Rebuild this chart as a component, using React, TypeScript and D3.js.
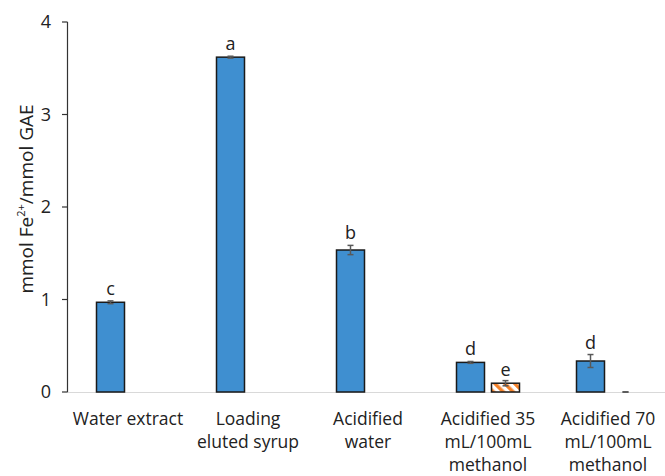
import React from "react";
import * as d3 from "d3";

const categories = [
  ["Water extract"],
  ["Loading", "eluted syrup"],
  ["Acidified", "water"],
  ["Acidified 35", "mL/100mL", "methanol"],
  ["Acidified 70", "mL/100mL", "methanol"],
];
const series1 = [0.97, 3.62, 1.535, 0.32, 0.335];
const err1 = [0.015, 0.01, 0.05, 0.01, 0.07];
const letters1 = ["c", "a", "b", "d", "d"];
const series2: (number | null)[] = [null, null, null, 0.095, 0.0];
const err2: (number | null)[] = [null, null, null, 0.028, 0.002];
const letters2 = ["", "", "", "e", ""];
const yTicks = [0, 1, 2, 3, 4];

const W = 665;
const H = 476;
const FONT = "'Open Sans', 'Noto Sans', sans-serif";
const BLUE = "#3F8FD0";
const ORANGE = "#F4822A";

export default function App() {
  const x = d3
    .scaleBand<number>()
    .domain(categories.map((_, i) => i))
    .range([68, 668])
    .paddingInner(0)
    .paddingOuter(0);
  const y = d3.scaleLinear().domain([0, 4]).range([392, 22]);
  const inner = d3
    .scaleBand<string>()
    .domain(["s1", "s2"])
    .range([0, 63])
    .paddingInner(0.2)
    .paddingOuter(0);

  const groupLeft = (i: number) => (x(i) as number) + x.bandwidth() / 2 - 31.5;

  const errBar = (cx: number, v: number, e: number, key: string) => (
    <g key={key} stroke="#595959" strokeWidth={1.5}>
      <line x1={cx} x2={cx} y1={y(v + e)} y2={y(v - e)} />
      <line x1={cx - 3} x2={cx + 3} y1={y(v + e)} y2={y(v + e)} />
      <line x1={cx - 3} x2={cx + 3} y1={y(v - e)} y2={y(v - e)} />
    </g>
  );

  return (
    <svg width={W} height={H} style={{ position: "absolute", left: 0, top: 0 }}>
      <defs>
        <pattern id="stripes" patternUnits="userSpaceOnUse" width="7" height="7" patternTransform="rotate(-45)">
          <rect width="7" height="7" fill="#FFFFFF" />
          <rect width="3.5" height="7" fill={ORANGE} />
        </pattern>
      </defs>
      <rect width={W} height={H} fill="#FFFFFF" />
      {/* baseline */}
      <line x1={67} x2={W} y1={y(0) + 0.5} y2={y(0) + 0.5} stroke="#D9D9D9" strokeWidth={1} />
      {/* bars series 1 */}
      {series1.map((v, i) => {
        const bx = groupLeft(i) + (inner("s1") as number);
        return (
          <g key={"b1" + i}>
            <rect
              x={bx}
              y={y(v)}
              width={inner.bandwidth()}
              height={y(0) - y(v)}
              fill={BLUE}
              stroke="#1a1a1a"
              strokeWidth={1.5}
            />
            {errBar(bx + inner.bandwidth() / 2, v, err1[i], "e1" + i)}
            <text
              x={bx + inner.bandwidth() / 2}
              y={y(v + err1[i]) - 6}
              textAnchor="middle"
              fontFamily={FONT}
              fontSize={18}
              fill="#222"
            >
              {letters1[i]}
            </text>
          </g>
        );
      })}
      {series2.map((v, i) => {
        if (v === null) return null;
        const bx = groupLeft(i) + (inner("s2") as number);
        const e = err2[i] as number;
        return (
          <g key={"b2" + i}>
            {v > 0 && (
              <rect
                x={bx}
                y={y(v)}
                width={inner.bandwidth()}
                height={y(0) - y(v)}
                fill="url(#stripes)"
                stroke="#1a1a1a"
                strokeWidth={1.5}
              />
            )}
            {errBar(bx + inner.bandwidth() / 2, v, e, "e2" + i)}
            {letters2[i] && (
              <text
                x={bx + inner.bandwidth() / 2}
                y={y(v + e) - 5}
                textAnchor="middle"
                fontFamily={FONT}
                fontSize={18}
                fill="#222"
              >
                {letters2[i]}
              </text>
            )}
          </g>
        );
      })}
      {/* y axis */}
      <line x1={67.5} x2={67.5} y1={y(4)} y2={y(0)} stroke="#333" strokeWidth={1.2} />
      {yTicks.map((t) => (
        <g key={"t" + t}>
          <line x1={62} x2={67.5} y1={y(t)} y2={y(t)} stroke="#333" strokeWidth={1.2} />
          <text
            x={51}
            y={y(t)}
            dy="0.35em"
            textAnchor="end"
            fontFamily={FONT}
            fontSize={18}
            fill="#222"
          >
            {t}
          </text>
        </g>
      ))}
      {/* category labels */}
      {categories.map((lines, i) => (
        <text
          key={"c" + i}
          x={(x(i) as number) + x.bandwidth() / 2}
          y={425}
          textAnchor="middle"
          fontFamily={FONT}
          fontSize={17.5}
          fill="#222"
        >
          {lines.map((l, j) => (
            <tspan key={j} x={(x(i) as number) + x.bandwidth() / 2} dy={j === 0 ? 0 : 23}>
              {l}
            </tspan>
          ))}
        </text>
      ))}
      {/* y title */}
      <text
        transform={`translate(33, ${199}) rotate(-90)`}
        textAnchor="middle"
        fontFamily={FONT}
        fontSize={19}
        fill="#222"
      >
        mmol Fe
        <tspan fontSize={11} dy={-8}>2+</tspan>
        <tspan dy={8}>/mmol GAE</tspan>
      </text>
    </svg>
  );
}
